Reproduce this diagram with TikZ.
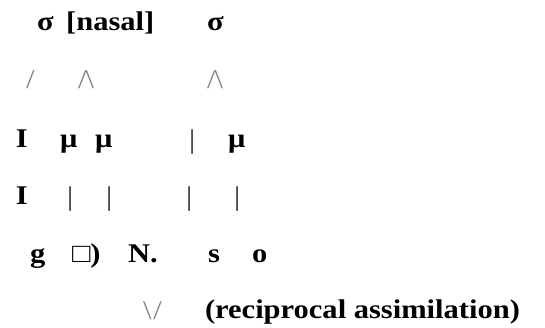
\documentclass[tikz,border=0pt]{standalone}
\usepackage{fontspec}
\setmainfont{Liberation Serif}[FakeStretch=1.13]
\usepackage{tikz}

\begin{document}
\begin{tikzpicture}[x=1pt,y=-1pt,inner sep=0pt,outer sep=0pt]

    \tikzstyle{every node}=[anchor=base west,font=\fontsize{27}{32}\selectfont\bfseries,text=black]
    \tikzstyle{branch}=[font=\fontsize{27}{32}\selectfont\mdseries,text=black!50]
    \tikzstyle{stem}=[font=\fontsize{27}{32}\selectfont\mdseries,text=black!85]

    \useasboundingbox (0,0) rectangle (545,328);

    % syllables
    \node (syl1)  at (37,31)   {σ\kern5pt{} [nasal]};
    \node (syl2)  at (207,31)  {σ};

    \node[branch] (br1) at (26,89)  {/};
    \node[branch] (br2) at (78,89)  {/\kern-1pt\textbackslash};
    \node[branch] (br3) at (207,89) {/\kern-1pt\textbackslash};

    % moras
    \node (onset1) at (16,148)  {I};
    \node (mu1)    at (60,148)  {μ};
    \node (mu2)    at (95,148)  {μ};
    \node[stem] (st0) at (189,149) {|};
    \node (mu3)    at (228,148) {μ};

    \node (onset2) at (16,205)  {I};
    \node[stem] (st1) at (67,206)  {|};
    \node[stem] (st2) at (106,206) {|};
    \node[stem] (st3) at (186,206) {|};
    \node[stem] (st4) at (234,206) {|};

    % segments
    \node (seg1) at (30,262)  {g};
    \node (seg2) at (72,262)  {□)};
    \node (seg3) at (128,262) {N.};
    \node (seg4) at (208,262) {s};
    \node (seg5) at (252,262) {o};

    \node[branch] (merge) at (143,319) {\textbackslash\kern2pt/};
    \node (note) at (205,318) {(reciprocal assimilation)};

\end{tikzpicture}
\end{document}
